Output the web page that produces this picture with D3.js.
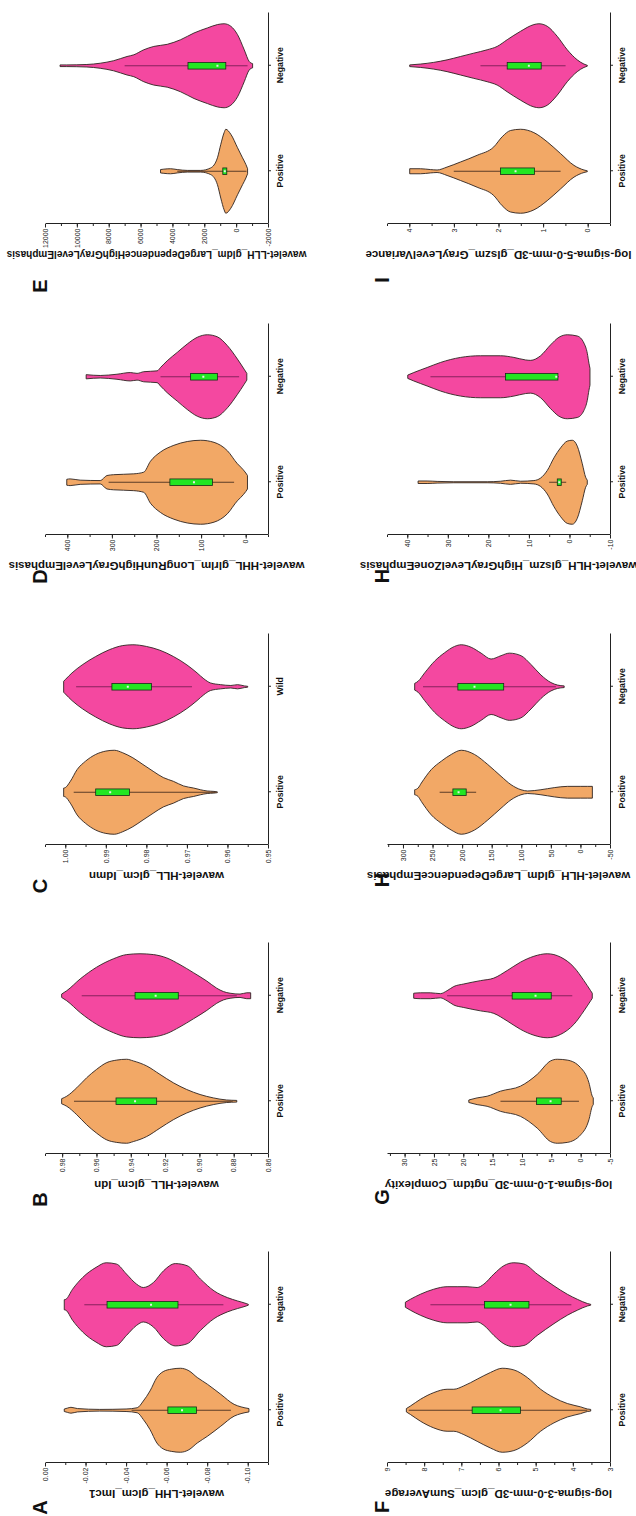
<!DOCTYPE html>
<html><head><meta charset="utf-8">
<script src="https://cdn.jsdelivr.net/npm/d3@7"></script>
<style>html,body{margin:0;padding:0;background:#fff;}svg{display:block;}</style>
</head><body>
<script>
// ---------- DATA ----------
const panelLetters = ["A","B","C","D","E","F","G","H","H","I"];
const featureNames = [
  "wavelet-LHH_glcm_Imc1",
  "wavelet-HLL_glcm_Idn",
  "wavelet-HLL_glcm_Idmn",
  "wavelet-HHL_glrlm_LongRunHighGrayLevelEmphasis",
  "wavelet-LLH_gldm_LargeDependenceHighGrayLevelEmphasis",
  "log-sigma-3-0-mm-3D_glcm_SumAverage",
  "log-sigma-1-0-mm-3D_ngtdm_Complexity",
  "wavelet-HLH_gldm_LargeDependenceEmphasis",
  "wavelet-HLH_glszm_HighGrayLevelZoneEmphasis",
  "log-sigma-5-0-mm-3D_glszm_GrayLevelVariance"
];
const categories = ["Positive","Negative"];
const categoriesC = ["Positive","Wild"];

const valueDomains = [[-0.11,0],[0.86,0.99],[0.95,1.005],[-50,450],[-2000,12000],[3,9],[-5,33],[-50,327],[-10,45],[-0.5,4.5]];
const minorSteps = [0.01,0.01,0.005,50,1000,0.5,2.5,25,5,0.5];

const aTicks = ["0.00","-0.02","-0.04","-0.06","-0.08","-0.10"];
const bTicks = ["0.98","0.96","0.94","0.92","0.90","0.88","0.86"];
const cTicks = ["1.00","0.99","0.98","0.97","0.96","0.95"];
const dTicks = ["400","300","200","100","0"];
const eTicks = ["12000","10000","8000","6000","4000","2000","0","-2000"];
const fTicks = ["9","8","7","6","5","4","3"];
const gTicks = ["30","25","20","15","10","5","0","-5"];
const hTicks = ["300","250","200","150","100","50","0","-50"];
const h2Ticks = ["40","30","20","10","0","-10"];
const iTicks = ["4","3","2","1","0"];

// violin profiles: [value, relative density half-width]
const aPos = [[-0.0095,.03],[-0.011,.05],[-0.0128,.07],[-0.016,.04],[-0.027,.02],[-0.040,.03],[-0.0455,.06],[-0.0485,.22],[-0.0518,.46],[-0.0552,.78],[-0.0583,.92],[-0.0625,.98],[-0.0668,1],[-0.071,.94],[-0.0751,.78],[-0.0801,.62],[-0.0867,.38],[-0.0933,.14],[-0.0967,.08],[-0.1006,.04]];
const aNeg = [[-0.0095,.12],[-0.0103,.13],[-0.0136,.37],[-0.0186,.65],[-0.0252,.89],[-0.0302,1],[-0.0352,.97],[-0.0402,.73],[-0.0452,.49],[-0.0485,.41],[-0.0535,.53],[-0.0585,.81],[-0.0643,.98],[-0.0701,.93],[-0.0767,.61],[-0.0834,.33],[-0.09,.17],[-0.095,.09],[-0.0992,.03],[-0.1003,.01]];
const bPos = [[0.9803,.06],[0.9773,.12],[0.9715,.32],[0.9657,.56],[0.9599,.76],[0.954,.92],[0.9482,.98],[0.9424,1],[0.9385,.96],[0.9307,.84],[0.923,.64],[0.9152,.44],[0.9074,.28],[0.8996,.16],[0.8919,.08],[0.8841,.03],[0.8782,.02]];
const bNeg = [[0.9803,.04],[0.9773,.12],[0.9695,.4],[0.9599,.68],[0.9501,.88],[0.9424,.98],[0.9346,1],[0.9268,.98],[0.919,.9],[0.9113,.74],[0.9035,.55],[0.8957,.35],[0.8899,.18],[0.886,.1],[0.8821,.06],[0.8763,.04],[0.8724,.07],[0.8701,.07]];
const cPos = [[1.0004,.1],[1.0,.11],[0.99875,.26],[0.99708,.54],[0.995,.74],[0.9925,.9],[0.99,.98],[0.98792,1],[0.98583,.94],[0.98333,.82],[0.98083,.66],[0.97833,.5],[0.97583,.35],[0.97333,.26],[0.97083,.15],[0.96833,.1],[0.96667,.06],[0.965,.03],[0.96333,.02],[0.9625,.01]];
const cNeg = [[1.0004,.13],[1.0,.17],[0.99833,.33],[0.99583,.52],[0.9925,.72],[0.98917,.88],[0.98583,.98],[0.98333,1],[0.98,.96],[0.97667,.87],[0.97333,.72],[0.97,.52],[0.9675,.33],[0.96583,.19],[0.96417,.09],[0.96167,.05],[0.95917,.03],[0.9575,.05],[0.95583,.02],[0.955,.01]];
const dPos = [[401.2,.07],[393.7,.08],[371.2,.05],[326.1,.04],[311.1,.16],[296.1,.18],[251.1,.2],[228.6,.24],[213.5,.5],[191,.72],[161,.88],[131,.97],[101,1],[71,.95],[41,.75],[18.5,.44],[11,.36],[-0.3,.22],[-4,.16]];
const dNeg = [[357.7,.05],[326.1,.03],[288.6,.06],[258.6,.1],[243.6,.08],[228.6,.12],[198.6,.14],[191,.22],[176,.38],[153.5,.58],[131,.78],[108.5,.94],[86,1],[63.5,.95],[41,.74],[18.5,.42],[3.5,.18],[-2.5,.08]];
const ePos = [[4748,.04],[4538,.05],[4117,.06],[3697,.04],[3066,.02],[2225,.02],[1595,.08],[1174,.32],[964,.64],[754,.92],[649,1],[333,.88],[-87,.56],[-402,.32],[-613,.16],[-718,.06]];
const eNeg = [[11054,.02],[10634,.02],[9372,.03],[8532,.06],[7691,.12],[6850,.22],[6429,.26],[5799,.38],[5168,.46],[4327,.51],[3486,.62],[2645,.78],[1805,.9],[1174,.98],[754,1],[333,.94],[-87,.74],[-508,.38],[-823,.1],[-1033,.05]];
const fPos = [[8.479,.04],[8.371,.1],[8.102,.26],[7.742,.42],[7.383,.5],[7.203,.5],[6.933,.58],[6.574,.74],[6.215,.9],[5.9,1],[5.586,.96],[5.226,.78],[4.867,.5],[4.508,.3],[4.148,.16],[3.789,.08],[3.609,.03],[3.519,.02]];
const fNeg = [[8.506,.06],[8.371,.13],[8.102,.25],[7.742,.37],[7.383,.43],[7.113,.43],[6.844,.43],[6.574,.41],[6.394,.49],[6.125,.73],[5.855,.93],[5.586,1],[5.316,.97],[4.957,.73],[4.508,.45],[4.148,.25],[3.879,.13],[3.609,.03],[3.519,.01]];
const gPos = [[19.06,.03],[17.64,.08],[15.94,.12],[13.66,.24],[10.25,.36],[7.4,.64],[5.13,.96],[3.99,1],[2.28,.98],[0.01,.8],[-1.41,.44],[-1.98,.12],[-2.15,.08]];
const gNeg = [[28.45,.06],[27.31,.07],[25.61,.07],[23.9,.05],[22.76,.12],[21.62,.22],[19.92,.28],[17.07,.36],[14.8,.42],[12.52,.6],[10.25,.8],[7.97,.94],[5.7,1],[3.42,.92],[1.15,.68],[-0.56,.36],[-1.7,.12],[-1.98,.06]];
const hPos = [[280.2,.06],[274.5,.1],[268.9,.22],[252.1,.54],[235.2,.74],[218.4,.9],[201.5,1],[179.1,.9],[156.6,.66],[134.2,.38],[117.3,.18],[100.5,.06],[89.2,.03],[66.8,.06],[44.3,.11],[21.9,.14],[-0.6,.14],[-11.8,.14],[-20.2,.14]];
const hNeg = [[280.2,.08],[274.5,.13],[263.3,.33],[246.5,.61],[229.6,.81],[212.8,.96],[201.5,1],[184.7,.94],[167.9,.8],[151,.66],[134.2,.74],[120.1,.8],[100.5,.74],[83.6,.53],[66.8,.28],[49.9,.1],[38.7,.04],[27.5,.02]];
const h2Pos = [[37.33,.03],[35.1,.03],[32.63,.02],[28.52,.012],[20.29,.012],[17,.024],[14.53,.05],[12.06,.024],[8.77,.04],[7.12,.1],[5.47,.28],[3.83,.58],[2.18,.82],[0.53,.98],[-0.7,1],[-1.93,.86],[-3.17,.44],[-3.99,.12],[-4.4,.05]];
const h2Neg = [[39.88,.04],[38.4,.1],[35.1,.22],[31.81,.34],[26.87,.46],[21.93,.5],[17,.5],[13.7,.46],[10.82,.4],[9.59,.39],[7.12,.5],[4.65,.76],[2.59,.94],[0.53,1],[-1.93,.97],[-3.58,.8],[-4.4,.56],[-4.81,.32],[-5.06,.2]];
const iPos = [[3.991,.06],[3.751,.06],[3.527,.04],[3.377,.03],[3.153,.1],[2.853,.22],[2.479,.38],[2.105,.58],[1.918,.82],[1.731,.97],[1.506,1],[1.207,.92],[0.907,.7],[0.608,.42],[0.308,.14],[0.084,.03],[0.009,.01]];
const iNeg = [[3.991,.02],[3.751,.04],[3.452,.08],[3.153,.14],[2.853,.22],[2.554,.3],[2.254,.38],[2.03,.46],[1.805,.62],[1.506,.82],[1.207,.98],[1.094,1],[0.907,.94],[0.683,.7],[0.458,.38],[0.234,.14],[0.084,.04],[0.009,.01]];

// box stats: [whisker low, Q1, centre dot, Q3, whisker high]
const aPosBox = [-0.0917,-0.0747,-0.0676,-0.0606,-0.0427];
const aNegBox = [-0.088,-0.0656,-0.0523,-0.0306,-0.0194];
const bPosBox = [0.8806,0.9249,0.9375,0.9486,0.9731];
const bNegBox = [0.8782,0.9123,0.9255,0.9375,0.9686];
const cPosBox = [0.96292,0.98417,0.98892,0.9925,0.99792];
const cNegBox = [0.96875,0.97875,0.98458,0.9885,0.99733];
const dPosBox = [26,74.6,116,170,307.4];
const dNegBox = [14.8,63.5,95,123.5,191];
const ePosBox = [-650,586,712,838,3697];
const eNegBox = [-718,649,1174,3024,7000];
const fPosBox = [3.609,5.406,5.945,6.709,8.416];
const fNegBox = [4.04,5.181,5.676,6.376,7.832];
const gPosBox = [0.29,3.31,5.13,7.52,13.66];
const gNegBox = [1.43,5.01,7.69,11.67,22.76];
const hPosBox = [176.3,193.1,206,215.6,238];
const hNegBox = [41.5,129.7,179.1,207.2,266.1];
const h2PosBox = [0.8,2.02,2.51,3.0,5.0];
const h2NegBox = [2.59,2.84,3.25,15.76,34.28];
const iPosBox = [0.608,1.192,1.618,1.955,3.003];
const iNegBox = [0.496,1.042,1.319,1.805,2.404];

// ---------- BUILD ----------
const tickSets = [aTicks,bTicks,cTicks,dTicks,eTicks,fTicks,gTicks,hTicks,h2Ticks,iTicks];
const violinSets = [[aPos,aNeg],[bPos,bNeg],[cPos,cNeg],[dPos,dNeg],[ePos,eNeg],[fPos,fNeg],[gPos,gNeg],[hPos,hNeg],[h2Pos,h2Neg],[iPos,iNeg]];
const boxSets = [[aPosBox,aNegBox],[bPosBox,bNegBox],[cPosBox,cNegBox],[dPosBox,dNegBox],[ePosBox,eNegBox],[fPosBox,fNegBox],[gPosBox,gNegBox],[hPosBox,hNegBox],[h2PosBox,h2NegBox],[iPosBox,iNegBox]];
const panels = panelLetters.map((L,i)=>({
  letter:L, name:featureNames[i], cats: i===2?categoriesC:categories,
  domain:valueDomains[i], ticks:tickSets[i], minor:minorSteps[i],
  violins:violinSets[i], boxes:boxSets[i]
}));

// ---------- LAYOUT / STYLE ----------
const W = 636, H = 1516;
const FONT = "'Liberation Sans', Arial, sans-serif";
const colX = [53,362,671,981,1292], rowY = [45,387];
const plotW = 211, plotH = 223;
const letterDX = [-44.5,-45.5,-41,-41.5,-62,-44,-43,-35,-41,-56];
const fills = ["#F2A866","#F448A0"];
const whiskerCols = ["#4a3020","#7a1e55"];

const svg = d3.select("body").append("svg").attr("width",W).attr("height",H);
// the whole figure is rotated 90° counter-clockwise
const root = svg.append("g").attr("transform",`translate(0,${H}) rotate(-90)`);

panels.forEach((p,i)=>{
  const X0 = colX[i%5], Y0 = rowY[Math.floor(i/5)];
  const g = root.append("g");
  const x = d3.scaleLinear().domain([0.5,2.5]).range([X0,X0+plotW]);
  const y = d3.scaleLinear().domain(p.domain).range([Y0+plotH,Y0]);
  const w = d3.scaleLinear().domain([0,1]).range([0,42]);

  p.violins.forEach((v,k)=>{
    const cx = x(k+1);
    const area = d3.area().curve(d3.curveMonotoneY)
      .y(d=>y(d[0])).x0(d=>cx-w(d[1])).x1(d=>cx+w(d[1]));
    g.append("path").attr("d",area(v)).attr("fill",fills[k])
      .attr("stroke","#2e2420").attr("stroke-width",0.9).attr("stroke-linejoin","round");
    const b = p.boxes[k];
    g.append("line").attr("x1",cx).attr("x2",cx).attr("y1",y(b[0])).attr("y2",y(b[4]))
      .attr("stroke",whiskerCols[k]).attr("stroke-width",0.9);
    g.append("rect").attr("x",cx-3.3).attr("width",6.6)
      .attr("y",y(b[3])).attr("height",Math.max(1,y(b[1])-y(b[3])))
      .attr("fill","#22E622").attr("stroke","#1a2a1a").attr("stroke-width",0.8);
    g.append("rect").attr("x",cx-1).attr("width",2).attr("y",y(b[2])-1).attr("height",2)
      .attr("fill","#e6f0e6");
  });

  // value axis (left)
  const lo = p.domain[0], hi = p.domain[1];
  const minors = [];
  for (let k=Math.ceil(lo/p.minor-1e-9); k<=Math.floor(hi/p.minor+1e-9); k++) minors.push(k*p.minor);
  const ym = g.append("g").attr("transform",`translate(${X0},0)`)
    .call(d3.axisLeft(y).tickValues(minors).tickSize(2).tickSizeOuter(0).tickFormat(""));
  ym.select(".domain").remove();
  ym.selectAll("line").attr("stroke","#222");
  const ya = g.append("g").attr("transform",`translate(${X0},0)`)
    .call(d3.axisLeft(y).tickValues(p.ticks.map(Number)).tickSize(3.5).tickSizeOuter(0).tickPadding(1)
      .tickFormat((d,j)=>p.ticks[j]));
  ya.attr("font-family",FONT).attr("font-size",7);
  ya.selectAll("line,path").attr("stroke","#222");
  ya.selectAll("text").attr("fill","#222");

  // category axis (bottom)
  const xa = g.append("g").attr("transform",`translate(0,${Y0+plotH})`)
    .call(d3.axisBottom(x).tickValues([1,2]).tickSize(3).tickSizeOuter(0).tickPadding(6)
      .tickFormat((d,j)=>p.cats[j]));
  xa.attr("font-family",FONT).attr("font-size",8.7).attr("font-weight","bold");
  xa.selectAll("line,path").attr("stroke","#222");
  xa.selectAll("text").attr("fill","#111");

  // value-axis title
  const t = g.append("text").attr("transform",`translate(${X0-31},${Y0+plotH/2}) rotate(-90)`)
    .attr("text-anchor","middle").attr("dy","0.35em")
    .attr("font-family",FONT).attr("font-weight","bold").attr("font-size",11.5)
    .attr("fill","#111").text(p.name);
  const len = t.node().getComputedTextLength();
  if (len > 300) t.attr("font-size", 11.5*300/len);

  // panel letter
  g.append("text").attr("x",X0+letterDX[i]).attr("y",Y0-5+7)
    .attr("text-anchor","middle").attr("font-family",FONT).attr("font-weight","bold")
    .attr("font-size",20).attr("fill","#111").text(p.letter);
});
</script>
</body></html>
